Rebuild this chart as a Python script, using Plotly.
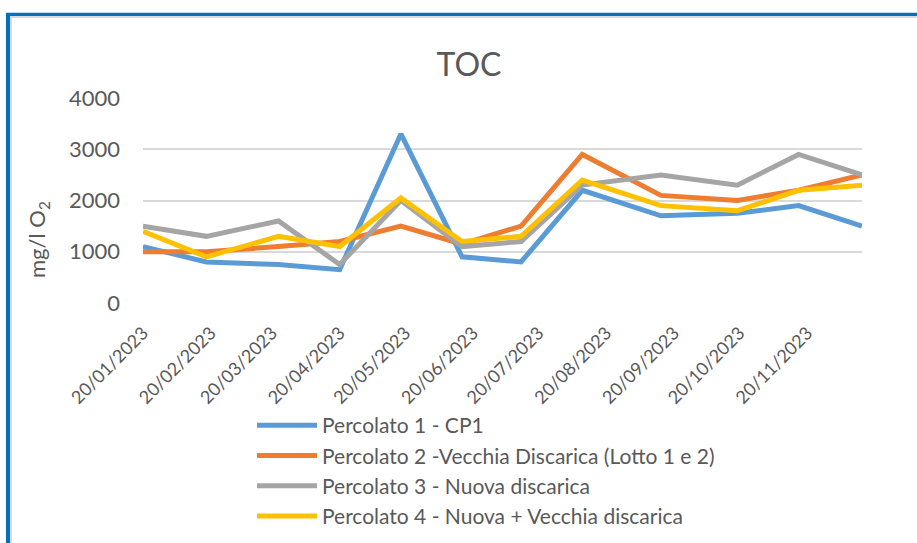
import plotly.graph_objects as go

dates = ["2023-01-20", "2023-02-18", "2023-03-23", "2023-04-20", "2023-05-18", "2023-06-15",
         "2023-07-12", "2023-08-09", "2023-09-14", "2023-10-19", "2023-11-16", "2023-12-15"]
percolato1 = [1100, 800, 750, 650, 3300, 900, 800, 2200, 1700, 1750, 1900, 1500]
percolato2 = [1000, 1000, 1100, 1200, 1500, 1150, 1500, 2900, 2100, 2000, 2200, 2500]
percolato3 = [1500, 1300, 1600, 750, 2000, 1100, 1200, 2300, 2500, 2300, 2900, 2500]
percolato4 = [1400, 900, 1300, 1100, 2050, 1200, 1300, 2400, 1900, 1800, 2200, 2300]

series_names = ["Percolato 1 - CP1",
                "Percolato 2 -Vecchia Discarica (Lotto 1 e 2)",
                "Percolato 3 - Nuova discarica",
                "Percolato 4 - Nuova + Vecchia discarica"]
series_values = [percolato1, percolato2, percolato3, percolato4]
colors = ["#5B9BD5", "#ED7D31", "#A5A5A5", "#FFC000"]

W, H_VIEW = 917, 543
H = 562  # figure slightly taller than the window so the legend never pushes the margins
L, R, T = 143, 55, 98
PLOT_BOTTOM = 303
B = H - PLOT_BOTTOM
PW, PH = W - L - R, PLOT_BOTTOM - T


def px(x):
    return (x - L) / PW


def py(y):
    return (PLOT_BOTTOM - y) / PH


FONT = "Lato"
TXT = "#595959"

fig = go.Figure()
for name, vals, c in zip(series_names, series_values, colors):
    fig.add_trace(go.Scatter(x=dates, y=vals, name=name, mode="lines",
                             line=dict(color=c, width=5)))

shapes = [
    # outer blue frame (top and left)
    dict(type="line", xref="paper", yref="paper", x0=px(6), x1=px(W + 5), y0=py(14.5), y1=py(14.5),
         line=dict(color="#0070C0", width=3.5)),
    dict(type="line", xref="paper", yref="paper", x0=px(8), x1=px(8), y0=py(13), y1=py(H + 5),
         line=dict(color="#0070C0", width=4)),
    # inner light gray edge
    dict(type="line", xref="paper", yref="paper", x0=px(10), x1=px(W + 5), y0=py(17), y1=py(17),
         line=dict(color="#DADADA", width=2)),
    dict(type="line", xref="paper", yref="paper", x0=px(11), x1=px(11), y0=py(16), y1=py(H + 5),
         line=dict(color="#DADADA", width=2)),
]

fig.update_layout(
    width=W, height=H,
    margin=dict(l=L, r=R, t=T, b=B),
    paper_bgcolor="white", plot_bgcolor="white",
    font=dict(family=FONT, color=TXT, size=21),
    title=dict(text="TOC", x=469 / W, xref="container", xanchor="center",
               y=1 - 65 / H, yref="container", yanchor="middle",
               font=dict(family=FONT, size=32, color=TXT)),
    showlegend=True,
    legend=dict(x=px(252), xanchor="left", y=py(405), yanchor="top",
                itemwidth=60,
                font=dict(family=FONT, size=21, color=TXT),
                bgcolor="rgba(0,0,0,0)", traceorder="normal"),
    shapes=shapes,
    annotations=[dict(text="mg/l O<sub>2</sub>", xref="paper", yref="paper",
                      x=px(38), y=py(240), textangle=-90, showarrow=False,
                      xanchor="center", yanchor="middle",
                      font=dict(family=FONT, size=22, color=TXT))],
)

fig.update_xaxes(type="date", range=[dates[0], dates[-1]],
                 tick0=dates[0], dtick="M1", tickformat="%d/%m/%Y",
                 tickangle=-45, showgrid=False, zeroline=False, showline=False,
                 ticks="", ticklabelstandoff=15, automargin=False,
                 tickfont=dict(family=FONT, size=18, color=TXT))
fig.update_yaxes(range=[-2, 4002], tickvals=[0, 1000, 2000, 3000, 4000],
                 showgrid=True, gridcolor="#D9D9D9", gridwidth=2, automargin=False,
                 zeroline=False, showline=False, ticks="", ticklabelstandoff=22,
                 tickfont=dict(family=FONT, size=22, color=TXT))

fig.write_html("out.html", config={"displayModeBar": False},
               post_script="document.body.style.margin='0px';"
                           "document.body.style.overflow='hidden';"
                           "document.documentElement.style.overflow='hidden';")
